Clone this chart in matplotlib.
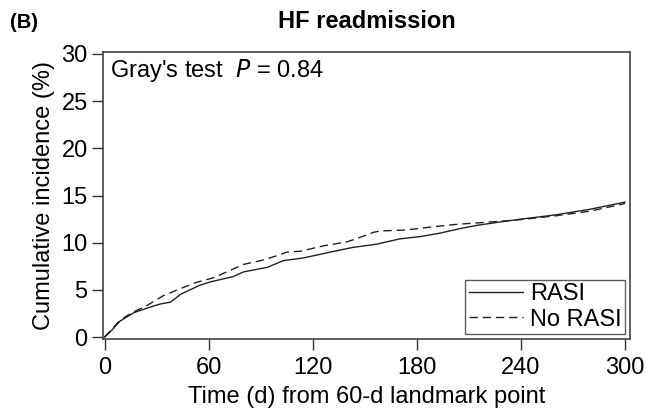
import matplotlib.pyplot as plt

plt.rcParams['font.family'] = ['Liberation Sans', 'DejaVu Sans']

# cumulative incidence (days, %)
rasi_days = [0, 3, 9, 17, 25, 32, 38, 44, 55, 61, 74, 80, 94, 103, 115, 130,
             143, 157, 170, 182, 193, 205, 215, 230, 240, 260, 280, 300]
rasi_inc = [0, 0.5, 1.7, 2.6, 3.1, 3.5, 3.7, 4.55, 5.5, 5.85, 6.4, 6.9, 7.4,
            8.1, 8.4, 9.0, 9.5, 9.85, 10.4, 10.65, 11.0, 11.5, 11.85, 12.25,
            12.5, 12.95, 13.55, 14.3]

norasi_days = [0, 3, 9, 16, 24, 34, 44, 53, 63, 74, 80, 90, 99, 105, 113, 126,
               140, 147, 155, 159, 174, 190, 203, 215, 230, 240, 260, 280, 300]
norasi_inc = [0, 0.6, 1.8, 2.6, 3.3, 4.4, 5.15, 5.8, 6.3, 7.2, 7.7, 8.1, 8.6,
              9.0, 9.1, 9.66, 10.1, 10.55, 11.1, 11.25, 11.35, 11.7, 11.95,
              12.1, 12.3, 12.45, 12.85, 13.35, 14.15]

x_ticks = [0, 60, 120, 180, 240, 300]
y_ticks = [0, 5, 10, 15, 20, 25, 30]

fig = plt.figure(figsize=(6.46, 4.20), dpi=100)
ax = fig.add_axes([0.1594, 0.1929, 0.8158, 0.6831])

ax.plot(rasi_days, rasi_inc, color='#222222', lw=1.0, label='RASI')
ax.plot(norasi_days, norasi_inc, color='#222222', lw=1.0,
        dashes=(6, 3.5), label='No RASI')

ax.set_xlim(-0.9, 302.9)
ax.set_ylim(-0.2, 30.2)
ax.set_xticks(x_ticks)
ax.set_yticks(y_ticks)
ax.tick_params(labelsize=17, length=8, width=1.0, color='#333333')
ax.tick_params(axis='x', pad=5)
ax.tick_params(axis='y', pad=3)
for s in ax.spines.values():
    s.set_color('#444444')
    s.set_linewidth(1.2)

ax.set_xlabel('Time (d) from 60-d landmark point', fontsize=17, labelpad=5)
ax.set_ylabel('Cumulative incidence (%)', fontsize=17, labelpad=5)
fig.text(366.5 / 646, 1 - 28 / 420, 'HF readmission', fontsize=17,
         fontweight='bold', ha='center', va='baseline')
fig.text(10 / 646, 1 - 28 / 420, '(B)', fontsize=14.5, fontweight='bold',
         ha='left', va='baseline')

ax.text(0.013, 0.913, "Gray's test  $\\mathit{P}$ = 0.84", transform=ax.transAxes,
        fontsize=17, va='baseline', ha='left')

leg = ax.legend(loc='lower right', fontsize=17, frameon=True, fancybox=False,
                handlelength=2.3, handletextpad=0.3, borderpad=0.15,
                labelspacing=0.15, borderaxespad=0.2)
leg.get_frame().set_edgecolor('#333333')
leg.get_frame().set_linewidth(1.0)

fig.savefig('out.png', dpi=100)
